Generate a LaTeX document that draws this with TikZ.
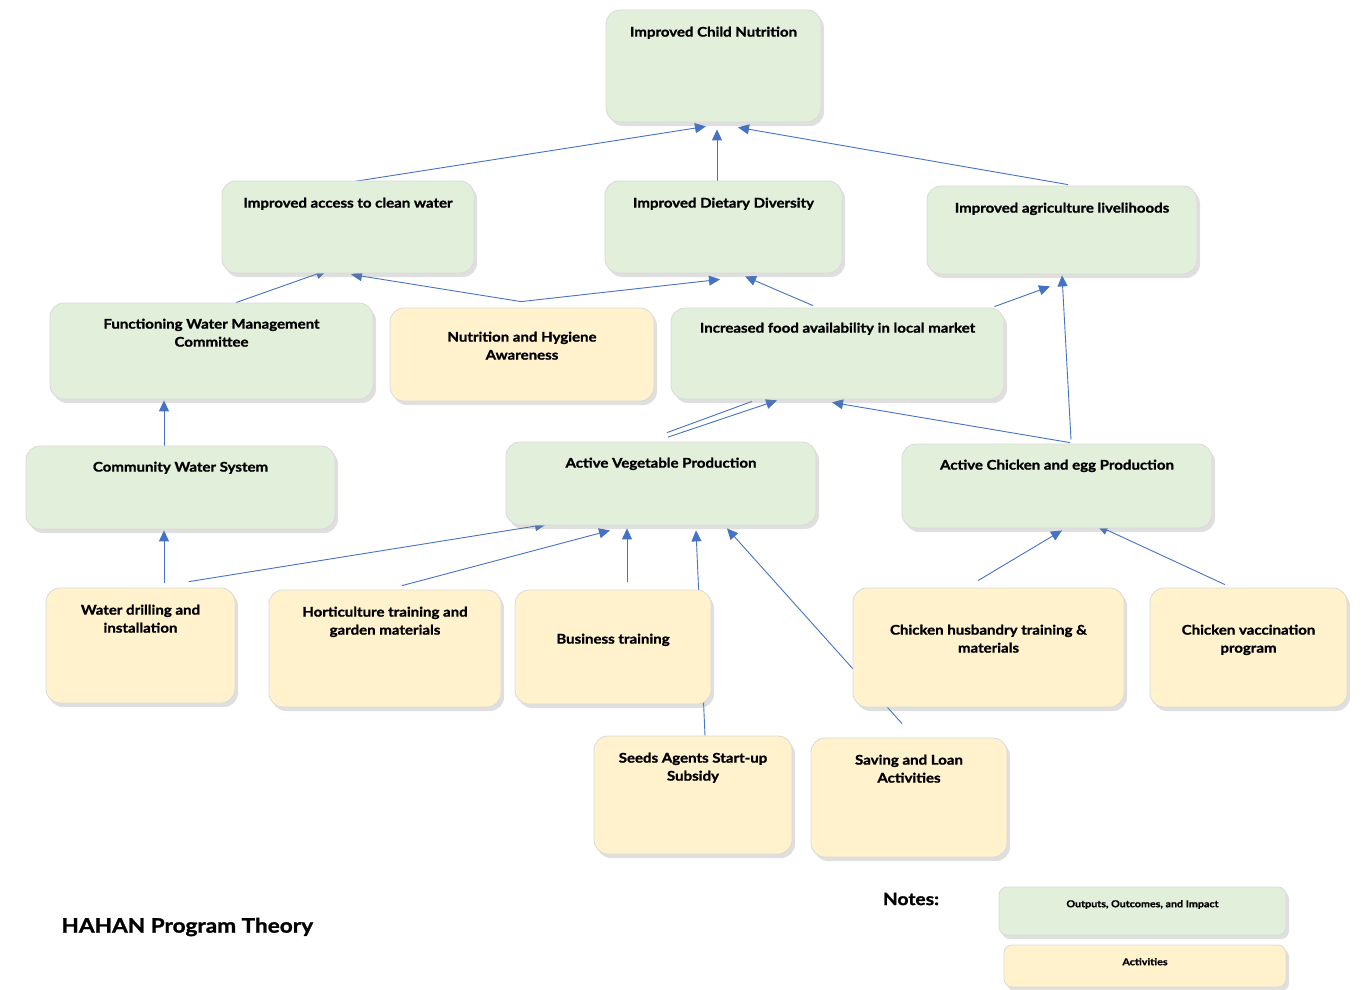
\documentclass[tikz,border=0pt]{standalone}
\usepackage{fontspec}
\setmainfont{Lato}[FakeStretch=1.13, BoldFeatures={FakeBold=1.2}]
\usepackage{tikz}
\usetikzlibrary{positioning, calc, shadows, backgrounds, arrows.meta}
\definecolor{outc}{RGB}{226,239,218}
\definecolor{actc}{RGB}{255,242,204}
\definecolor{lnc}{RGB}{68,114,196}

\begin{document}
\begin{tikzpicture}[x=1pt, y=-1pt,
                    every node/.style = {text=black, font=\bfseries\fontsize{13.3}{18}\selectfont},
                    box/.style = {draw=black!15, line width=0.8pt, rounded corners=14pt, inner sep=0pt,
                                  drop shadow={shadow xshift=3pt, shadow yshift=-4pt, opacity=0.25}},
                    outbox/.style = {box, fill=outc},
                    actbox/.style = {box, fill=actc},
                    toptext/.style 2 args = {label={[anchor=north, yshift=-#2pt, align=center]north:#1}},
                    arr/.style = {draw=lnc, line width=0.9pt, -{Triangle[length=11pt, width=10pt]}},
                    ln/.style = {draw=lnc, line width=0.9pt}]
    \useasboundingbox (0,0) rectangle (1366,990);
    % outcomes
    \node (cn) [outbox, minimum width=215pt, minimum height=112pt, toptext={Improved Child Nutrition}{13.6}] at (713.5,66) {};
    \node (cw) [outbox, minimum width=252pt, minimum height=92pt, toptext={Improved access to clean water}{13.6}] at (348,227) {};
    \node (dd) [outbox, minimum width=237pt, minimum height=92pt, toptext={Improved Dietary Diversity}{13.6}] at (723.5,227) {};
    \node (al) [outbox, minimum width=270pt, minimum height=88pt, toptext={Improved agriculture livelihoods}{13.6}] at (1062,230) {};
    \node (wm) [outbox, minimum width=323pt, minimum height=96pt, toptext={Functioning Water Management\\Committee}{12.6}] at (211.5,351) {};
    \node (nh) [actbox, minimum width=264pt, minimum height=93pt, toptext={Nutrition and Hygiene\\Awareness}{20.6}] at (522,354.5) {};
    \node (fa) [outbox, minimum width=333pt, minimum height=91pt, toptext={Increased food availability in local market}{11.6}] at (837.5,353.5) {};
    \node (cws) [outbox, minimum width=309pt, minimum height=83pt, toptext={Community Water System}{12.6}] at (180.5,487.5) {};
    \node (vp) [outbox, minimum width=310pt, minimum height=83pt, toptext={Active Vegetable Production}{12.6}] at (661,483.5) {};
    \node (cp) [outbox, minimum width=310pt, minimum height=84pt, toptext={Active Chicken and egg Production}{12.6}] at (1057,486) {};
    % activities
    \node (wd) [actbox, minimum width=189pt, minimum height=115pt, toptext={Water drilling and\\installation}{13.6}] at (140.5,645.5) {};
    \node (ht) [actbox, minimum width=232pt, minimum height=117pt, toptext={Horticulture training and\\garden materials}{13.6}] at (385,648.5) {};
    \node (bt) [actbox, minimum width=196pt, minimum height=114pt, toptext={Business training}{40.6}] at (613,647) {};
    \node (ch) [actbox, minimum width=271pt, minimum height=119pt, toptext={Chicken husbandry training \&\\materials}{33.6}] at (988.5,647.5) {};
    \node (cv) [actbox, minimum width=197pt, minimum height=119pt, toptext={Chicken vaccination\\program}{33.6}] at (1248.5,647.5) {};
    \node (sa) [actbox, minimum width=198pt, minimum height=118pt, toptext={Seeds Agents Start-up\\Subsidy}{13.6}] at (693,795) {};
    \node (sl) [actbox, minimum width=196pt, minimum height=119pt, toptext={Saving and Loan\\Activities}{13.6}] at (909,797.5) {};
    % notes
    \node (title) [anchor=west, font=\bfseries\fontsize{20}{24}\selectfont] at (58,927) {HAHAN Program Theory};
    \node (notes) [font=\bfseries\fontsize{17}{20}\selectfont] at (911,899) {Notes:};
    \node (lg1) [outbox, rounded corners=8pt, minimum width=287pt, minimum height=48pt,
                 label={[anchor=north, yshift=-10pt, font=\bfseries\fontsize{9.5}{11}\selectfont]north:Outputs, Outcomes, and Impact}] at (1142.5,911) {};
    \node (lg2) [actbox, rounded corners=8pt, minimum width=282pt, minimum height=42pt,
                 label={[anchor=north, yshift=-10pt, font=\bfseries\fontsize{9.5}{11}\selectfont]north:Activities}] at (1145,966) {};
    \begin{scope}[on background layer]
        \draw[arr] ($(cw.north)+(-1,2)$) -- ($(cn.south)+(-7.5,4)$);
        \draw[arr] ($(dd.north)+(-6.5,0)$) -- ($(cn.south)+(3.5,7)$);
        \draw[arr] ($(al.north)+(6,-1)$) -- ($(cn.south)+(24.5,5)$);
        \draw[arr] ($(wm.north)+(24.5,0)$) -- ($(cw.south)+(-21,-3)$);
        \draw[arr] ($(nh.north)+(-1,-6)$) -- ($(cw.south)+(3,1)$);
        \draw[arr] ($(nh.north)+(-1,-6)$) -- ($(dd.south)+(-3.5,6)$);
        \draw[arr] ($(fa.north)+(-24.5,-2)$) -- ($(dd.south)+(21.5,3)$);
        \draw[arr] ($(fa.north east)+(-10,-1)$) -- ($(al.south)+(-12,12)$);
        \draw[arr] ($(cp.north)+(14,-4)$) -- ($(al.south)+(0,1)$);
        \draw[arr] ($(cp.north)+(13,-1)$) -- ($(fa.south)+(-5.5,3)$);
        \draw[arr] ($(vp.north)+(7,-4.5)$) -- ($(fa.south)+(-60.5,1)$);
        \draw[ln] ($(vp.north)+(6,-9)$) -- ($(fa.south)+(-85.5,2)$);
        \draw[arr] ($(cws.north)+(-16.5,0)$) -- ($(wm.south)+(-47.5,1)$);
        \draw[arr] ($(wd.north)+(23.5,-5)$) -- ($(cws.south)+(-16.5,1)$);
        \draw[arr] ($(wd.north)+(48.5,-6)$) -- ($(vp.south)+(-115,-1)$);
        \draw[arr] ($(ht.north)+(17,-4)$) -- ($(vp.south)+(-51,5)$);
        \draw[arr] ($(bt.north)+(14,-8)$) -- ($(vp.south)+(-34,3)$);
        \draw[arr] ($(sa.north)+(12,0)$) -- ($(vp.south)+(35,5)$);
        \draw[arr] ($(sl.north)+(-7,-14)$) -- ($(vp.south)+(66,3)$);
        \draw[arr] ($(ch.north)+(-10.5,-7)$) -- ($(cp.south)+(5,2)$);
        \draw[arr] ($(cv.north)+(-23.5,-3)$) -- ($(cp.south)+(40,-3)$);
    \end{scope}
\end{tikzpicture}
\end{document}
